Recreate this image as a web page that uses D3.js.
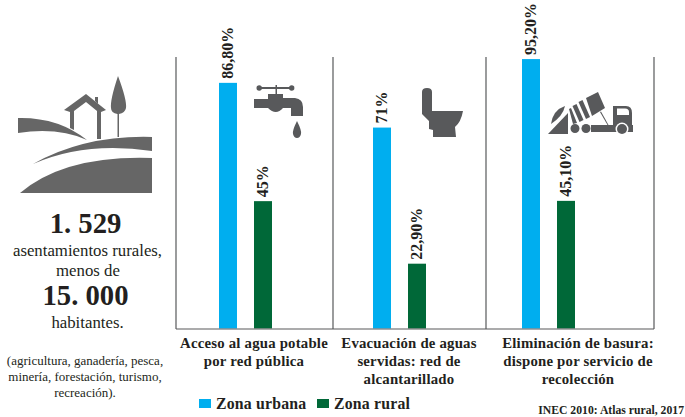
<!DOCTYPE html>
<html>
<head>
<meta charset="utf-8">
<script src="https://cdn.jsdelivr.net/npm/d3@7"></script>
<style>
  html, body { margin: 0; padding: 0; background: #fff; }
  text { font-family: "Liberation Serif", serif; fill: #231f20; }
</style>
</head>
<body>
<svg id="chart" width="685" height="417"></svg>
<script>
const categories = ["agua", "evacuacion", "basura"];
const zones = ["Zona urbana", "Zona rural"];
const urbana = [86.8, 71, 95.2];
const rural = [45, 22.9, 45.1];
const urbanaLabels = ["86,80%", "71%", "95,20%"];
const ruralLabels = ["45%", "22,90%", "45,10%"];
const categoryLines = [
  ["Acceso al agua potable", "por red pública"],
  ["Evacuación de aguas", "servidas: red de", "alcantarillado"],
  ["Eliminación de basura:", "dispone por servicio de", "recolección"]
];

const svg = d3.select("#chart");
const ink = "#58595b";
const blue = "#00aeef";
const green = "#006838";

const y = d3.scaleLinear().domain([0, 100]).range([328.5, 45.5]);
// the groups are not evenly spaced in the original
const groupLeft = d3.scaleOrdinal().domain(categories).range([219, 373, 522]);
const x = d3.scaleBand().domain(zones).range([0, 53]).paddingInner(0.486);

const series = [
  { zone: zones[0], values: urbana, labels: urbanaLabels, color: blue },
  { zone: zones[1], values: rural, labels: ruralLabels, color: green }
];

series.forEach(s => {
  const dx = x(s.zone);
  svg.append("g").selectAll("rect")
    .data(categories)
    .join("rect")
    .attr("x", c => groupLeft(c) + dx)
    .attr("y", (c, i) => y(s.values[i]))
    .attr("width", x.bandwidth())
    .attr("height", (c, i) => y(0) - y(s.values[i]))
    .attr("fill", s.color);

  svg.append("g").selectAll("text")
    .data(categories)
    .join("text")
    .attr("transform", (c, i) => `translate(${groupLeft(c) + dx + x.bandwidth() / 2 + 5},${y(s.values[i]) - 4}) rotate(-90)`)
    .style("font-size", "16px")
    .style("font-weight", "bold")
    .text((c, i) => s.labels[i]);
});

// frame: baseline and separators
const frameX = [176, 333, 486, 654];
svg.append("line")
  .attr("x1", frameX[0]).attr("x2", frameX[3])
  .attr("y1", 329).attr("y2", 329)
  .attr("stroke", ink).attr("stroke-width", 1.2);
svg.append("g").selectAll("line")
  .data(frameX)
  .join("line")
  .attr("x1", d => d).attr("x2", d => d)
  .attr("y1", 57).attr("y2", 329)
  .attr("stroke", ink).attr("stroke-width", 1.2);

// category labels
const labelCenter = [254, 409, 578];
categoryLines.forEach((lines, i) => {
  svg.append("g").selectAll("text")
    .data(lines)
    .join("text")
    .attr("x", labelCenter[i])
    .attr("y", (d, j) => 348 + j * 18)
    .attr("text-anchor", "middle")
    .style("font-size", "14.8px")
    .style("font-weight", "bold")
    .style("letter-spacing", "0.2px")
    .text(d => d);
});

// legend
const legendX = [199, 317];
zones.forEach((z, i) => {
  svg.append("rect")
    .attr("x", legendX[i]).attr("y", 399)
    .attr("width", 12).attr("height", 9)
    .attr("fill", i === 0 ? blue : green);
  svg.append("text")
    .attr("x", legendX[i] + 17).attr("y", 409)
    .style("font-size", "15.8px")
    .style("font-weight", "bold")
    .style("letter-spacing", "0.2px")
    .text(z);
});

svg.append("text")
  .attr("x", 684).attr("y", 414)
  .attr("text-anchor", "end")
  .style("font-size", "11.7px")
  .style("font-weight", "bold")
  .text("INEC 2010: Atlas rural, 2017");

// left column
const leftText = [
  { t: "1. 529", x: 85.5, y: 233, size: 28.7, bold: true },
  { t: "asentamientos rurales,", x: 87.5, y: 256, size: 16.8 },
  { t: "menos de", x: 88, y: 275.5, size: 16.8 },
  { t: "15. 000", x: 85.5, y: 305, size: 28.7, bold: true },
  { t: "habitantes.", x: 87.5, y: 328, size: 16.8 },
  { t: "(agricultura, ganadería, pesca,", x: 85, y: 365, size: 13 },
  { t: "minería, forestación, turismo,", x: 85, y: 381, size: 13 },
  { t: "recreación).", x: 85, y: 397, size: 13 }
];
svg.append("g").selectAll("text")
  .data(leftText)
  .join("text")
  .attr("x", d => d.x)
  .attr("y", d => d.y)
  .attr("text-anchor", "middle")
  .style("font-size", d => d.size + "px")
  .style("font-weight", d => d.bold ? "bold" : "normal")
  .text(d => d.t);

// icons
const icons = svg.append("g").attr("fill", "#666");
// landscape
[
  "M18 118 Q58 117 87 140 Q58 127 18 133Z",
  "M33 164 Q85 135 152 137 L152 151 Q85 141 33 164Z",
  "M20 193 Q65 155 152 158 L152 193Z",
  "M86 94 L106 110 L101 112 L101 139 L97 139 L97 111 L86 102 L74 111 L74 130 L70 128 L70 112 L64 110Z",
  "M95 97 H98 V104 L95 101Z",
  "M118 76 Q127 100 126 108 Q125 113 119 114 V137 H117.5 V114 Q111 113 111 108 Q110 100 118 76Z"
].forEach(d => icons.append("path").attr("d", d));

const darkIcons = svg.append("g").attr("fill", "#58595b");
// faucet
[
  "M259 87 H292 V89 H259Z",
  "M275.5 85 H277 V95 H275.5Z",
  "M268 94 H283 V98 H295 Q303 99 303 107 V116 H291 V108 H283 Q276 116 268 108 H254 V99 H268Z",
  "M297 121 Q302 131 301 134 Q300 138 297 138 Q294 138 293 134 Q292 131 297 121Z",
  "M256.5 88a2.7 2.7 0 1 0 5.4 0a2.7 2.7 0 1 0 -5.4 0Z",
  "M289 88a2.7 2.7 0 1 0 5.4 0a2.7 2.7 0 1 0 -5.4 0Z"
].forEach(d => darkIcons.append("path").attr("d", d));
// toilet
darkIcons.append("path")
  .attr("d", "M422 92 Q422 88 427 88 Q432 88 432 92 V111 H463 Q461 122 455 127 L456 137 H433 V130 L429 129 V121 L422 114Z");
// truck
[
  "M586 98 L598 92 L605 108 L592 116Z",
  "M578.5 102 L582.5 100 L590 117 L586 119Z",
  "M572.5 106 L576.5 104 L583.5 120 L579.5 122Z",
  "M569 109 L571 108 L577 123 L573 124Z",
  "M551 124 Q553 110 565 106 Q563 116 551 124Z",
  "M548 134 L568 113 V134Z",
  "M591 125 H633 V132 H591Z",
  "M613 106 H626 Q632 106 632 113 V127 H613Z M617 108.5 V115 H629 V112 Q629 108.5 625 108.5Z",
  "M570.5 128.5a4.5 4.5 0 1 0 9 0a4.5 4.5 0 1 0 -9 0Z",
  "M581.5 128.5a4.5 4.5 0 1 0 9 0a4.5 4.5 0 1 0 -9 0Z",
  "M600 112 L601 111.5 L608.5 125 L607.5 125Z"
].forEach(d => darkIcons.append("path").attr("d", d).attr("fill-rule", "evenodd"));
darkIcons.append("circle").attr("cx", 622).attr("cy", 129).attr("r", 6.5).attr("fill", "#fff");
darkIcons.append("circle").attr("cx", 622).attr("cy", 129).attr("r", 5);
</script>
</body>
</html>
